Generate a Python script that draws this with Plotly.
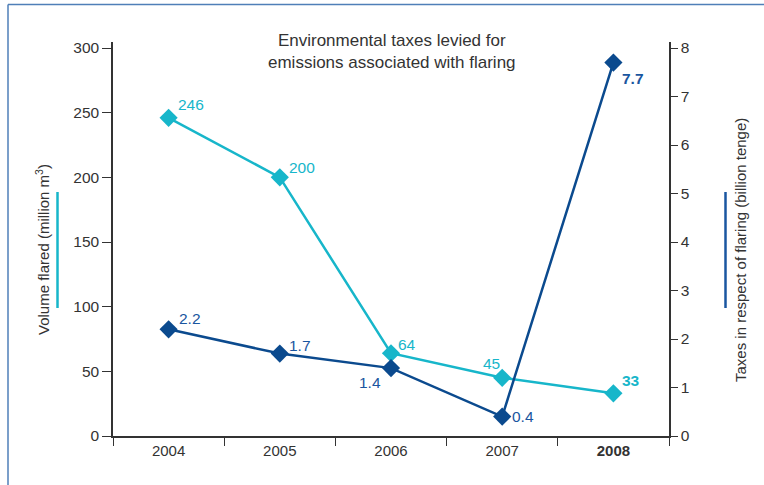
import plotly.graph_objects as go

# Flaring volumes and related environmental taxes, 2004-2008
years = ["2004", "2005", "2006", "2007", "2008"]
year_labels = ["2004", "2005", "2006", "2007", "<b>2008</b>"]
volume_flared = [246, 200, 64, 45, 33]          # million m3
taxes_flaring = [2.2, 1.7, 1.4, 0.4, 7.7]       # billion tenge

CYAN = "#17b6ca"
NAVY = "#0b4a8e"
LABEL_NAVY = "#1a56a0"
GREY = "#333333"
FONT = "Liberation Sans, Arial, sans-serif"
TXT = 15.5

fig = go.Figure()

fig.add_trace(go.Scatter(
    x=years, y=volume_flared, mode="lines+markers",
    line=dict(color=CYAN, width=2.5),
    marker=dict(symbol="diamond", size=14, color=CYAN),
    yaxis="y", showlegend=False, hoverinfo="skip",
))
fig.add_trace(go.Scatter(
    x=years, y=taxes_flaring, mode="lines+markers",
    line=dict(color=NAVY, width=2.5),
    marker=dict(symbol="diamond", size=14, color=NAVY),
    yaxis="y2", showlegend=False, hoverinfo="skip",
))

# value labels: (xshift, yshift) in pixels, bold flag
vol_offsets = [(22, 13, False), (22, 10, False), (16, 9, False), (-11, 14, False), (18, 13, True)]
tax_offsets = [(21, 11, False), (20, 8, False), (-21, -14, False), (21, 0, False), (20, -16, True)]

annotations = []
for i, (v, (dx, dy, b)) in enumerate(zip(volume_flared, vol_offsets)):
    txt = f"{v:g}"
    annotations.append(dict(
        x=i, y=v, xref="x", yref="y", text=f"<b>{txt}</b>" if b else txt,
        showarrow=False, xshift=dx, yshift=dy,
        xanchor="center", yanchor="middle",
        font=dict(family=FONT, size=TXT, color=CYAN),
    ))
for i, (v, (dx, dy, b)) in enumerate(zip(taxes_flaring, tax_offsets)):
    txt = f"{v:g}"
    annotations.append(dict(
        x=i, y=v, xref="x", yref="y2", text=f"<b>{txt}</b>" if b else txt,
        showarrow=False, xshift=dx, yshift=dy,
        xanchor="center", yanchor="middle",
        font=dict(family=FONT, size=TXT, color=LABEL_NAVY),
    ))

W, H = 764, 485
L, R, T, B = 113, 95, 42, 49
pw, ph = W - L - R, H - T - B

def px_x(px):
    return (px - L) / pw

def px_y(py):
    return (H - B - py) / ph

# chart title inside the plot area
annotations.append(dict(
    x=px_x(392), y=px_y(52), xref="paper", yref="paper",
    xanchor="center", yanchor="middle",
    text="Environmental taxes levied for<br>emissions associated with flaring",
    showarrow=False,
    font=dict(family=FONT, size=17, color=GREY),
))

# rotated axis titles
annotations.append(dict(
    x=px_x(42), y=px_y(250), xref="paper", yref="paper",
    xanchor="center", yanchor="middle",
    text="Volume flared (million m<sup>3</sup>)", textangle=-90,
    showarrow=False, font=dict(family=FONT, size=15, color=GREY),
))
annotations.append(dict(
    x=px_x(740), y=px_y(250), xref="paper", yref="paper",
    xanchor="center", yanchor="middle",
    text="Taxes in respect of flaring (billion tenge)", textangle=-90,
    showarrow=False, font=dict(family=FONT, size=15, color=GREY),
))

shapes = [
    # coloured keys next to the axis titles
    dict(type="line", xref="paper", yref="paper",
         x0=px_x(57.5), x1=px_x(57.5), y0=px_y(192), y1=px_y(308),
         line=dict(color=CYAN, width=2.5)),
    dict(type="line", xref="paper", yref="paper",
         x0=px_x(725.5), x1=px_x(725.5), y0=px_y(192), y1=px_y(308),
         line=dict(color=LABEL_NAVY, width=2.5)),
    # outer frame (left and top edges)
    dict(type="line", xref="paper", yref="paper",
         x0=px_x(8), x1=px_x(8), y0=px_y(4.5), y1=px_y(490),
         line=dict(color="#4f7fb8", width=1.5)),
    dict(type="line", xref="paper", yref="paper",
         x0=px_x(8), x1=px_x(770), y0=px_y(4.5), y1=px_y(4.5),
         line=dict(color="#4f7fb8", width=1.5)),
]

fig.update_layout(
    width=W, height=H,
    margin=dict(l=L, r=R, t=T, b=B),
    paper_bgcolor="white", plot_bgcolor="white",
    font=dict(family=FONT, size=15, color=GREY),
    xaxis=dict(
        type="category", categoryorder="array", categoryarray=years,
        tickvals=years, ticktext=year_labels,
        range=[-0.5, 4.5], tickson="boundaries", ticks="outside",
        ticklen=8, tickcolor=GREY, showline=True, linecolor=GREY, linewidth=1.5,
        showgrid=False, zeroline=False, tickfont=dict(size=15, color=GREY),
    ),
    yaxis=dict(
        range=[0, 300 * ph / 388], tickvals=[0, 50, 100, 150, 200, 250, 300],
        ticks="outside", ticklen=9, tickcolor=GREY, showline=True,
        linecolor=GREY, linewidth=1.5, showgrid=False, zeroline=False,
        tickfont=dict(size=TXT, color=GREY),
    ),
    yaxis2=dict(
        overlaying="y", side="right",
        range=[0, 8 * ph / 388], tickvals=list(range(0, 9)),
        ticks="outside", ticklen=7, tickcolor=GREY, showline=True,
        linecolor=GREY, linewidth=1.5, showgrid=False, zeroline=False,
        tickfont=dict(size=TXT, color=GREY),
    ),
    annotations=annotations,
    shapes=shapes,
)

fig.write_html("out.html")
